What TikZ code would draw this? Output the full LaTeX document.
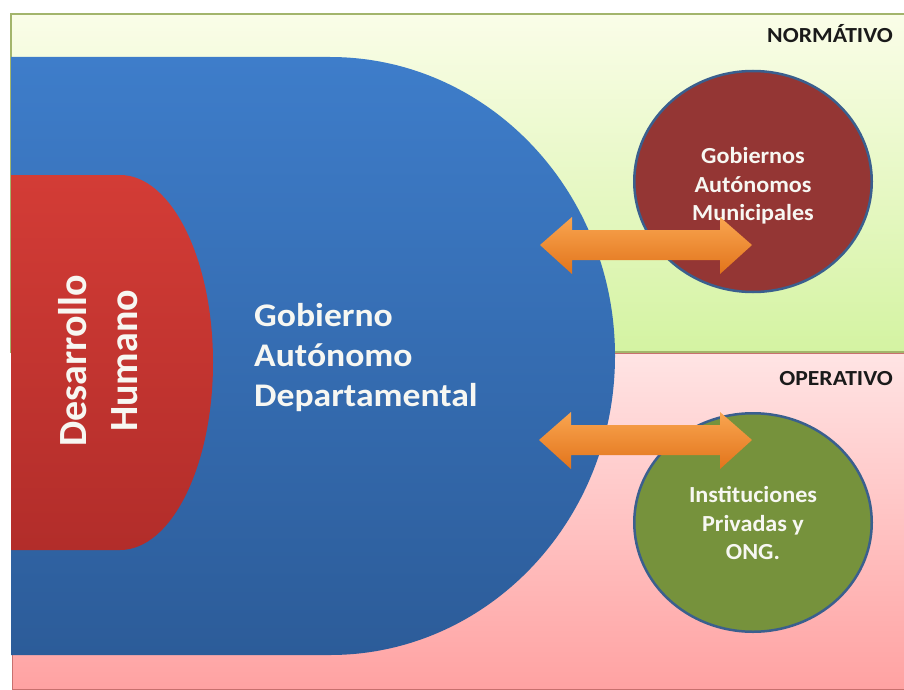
\documentclass[tikz,border=0pt]{standalone}
\usepackage{fontspec}
\setmainfont{Carlito}
\usetikzlibrary{shapes.geometric}
\definecolor{ngTop}{HTML}{FAFDE8}
\definecolor{ngBot}{HTML}{D4F3A2}
\definecolor{ngLine}{HTML}{A3B56C}
\definecolor{pkTop}{HTML}{FFE4E4}
\definecolor{pkBot}{HTML}{FFA2A2}
\definecolor{pkLine}{HTML}{C8706E}
\definecolor{blueTop}{HTML}{3E7DCA}
\definecolor{blueBot}{HTML}{2C5C99}
\definecolor{redTop}{HTML}{D33C36}
\definecolor{redBot}{HTML}{B22D2A}
\definecolor{brownC}{HTML}{943634}
\definecolor{greenC}{HTML}{76923C}
\definecolor{circLine}{HTML}{3A5F8E}
\definecolor{orTop}{HTML}{F9A550}
\definecolor{orBot}{HTML}{E2741B}
\definecolor{lblC}{HTML}{1A1A1A}
\definecolor{txtW}{HTML}{F7F7F2}
\begin{document}
\begin{tikzpicture}[x=1pt,y=-1pt,
  panellabel/.style={font=\fontsize{21.5}{25}\selectfont\bfseries, text=lblC, inner sep=0pt, anchor=base east, xscale=1.1},
  circnode/.style={ellipse, draw=circLine, line width=2.5pt, inner sep=0pt},
  circtext/.style={text=txtW, font=\fontsize{23}{28.5}\selectfont\bfseries, inner sep=0pt, align=center, xscale=1.05},
  bigtext/.style={text=txtW, font=\fontsize{33}{40}\selectfont\bfseries, inner sep=0pt, align=left, xscale=1.08},
  redtext/.style={text=txtW, font=\fontsize{40}{51}\selectfont\bfseries, inner sep=0pt, align=center}]
\useasboundingbox (0,0) rectangle (904,690);
\fill[white] (0,0) rectangle (904,690);
% panels
\shadedraw[top color=ngTop, bottom color=ngBot, draw=ngLine, line width=1.5pt] (11,14) rectangle (910,352);
\shadedraw[top color=pkTop, bottom color=pkBot, draw=pkLine, line width=1pt] (12,353.5) rectangle (910,689.5);
\node[panellabel] (norm) at (893,43) {NORMÁTIVO};
\node[panellabel] (oper) at (893,385) {OPERATIVO};
% blue shape
\shade[top color=blueTop, bottom color=blueBot] (11,57) -- (330,57)
  arc[start angle=-90, end angle=90, x radius=285, y radius=299] -- (11,655) -- cycle;
\coordinate (gad) at (615,356);
% red shape
\shade[top color=redTop, bottom color=redBot] (11,175) -- (120,175)
  arc[start angle=-90, end angle=90, x radius=93, y radius=187.5] -- (11,550) -- cycle;
\node[redtext, rotate=90] (dh) at (98,361) {Desarrollo\\Humano};
\node[bigtext, anchor=west] (gadtxt) at (254,358) {Gobierno\\Autónomo\\Departamental};
% circles
\node[circnode, fill=brownC, minimum width=237.5, minimum height=221] (gam) at (753,181.5) {};
\node[circtext] (gamtxt) at (753,186) {Gobiernos\\Autónomos\\Municipales};
\node[circnode, fill=greenC, minimum width=237.5, minimum height=218.5] (ipo) at (753,522.5) {};
\node[circtext] (ipotxt) at (753,523) {Instituciones\\Privadas y\\ONG.};
% arrows
\shade[top color=orTop, bottom color=orBot] (540,245) -- (572,217) -- (572,230) -- (720,230) -- (720,217)
  -- (752,245) -- (720,274) -- (720,260) -- (572,260) -- (572,274) -- cycle;
\shade[top color=orTop, bottom color=orBot] (539,440) -- (571,412) -- (571,425) -- (720,425) -- (720,412)
  -- (752,440) -- (720,469) -- (720,455) -- (571,455) -- (571,469) -- cycle;
\end{tikzpicture}
\end{document}
